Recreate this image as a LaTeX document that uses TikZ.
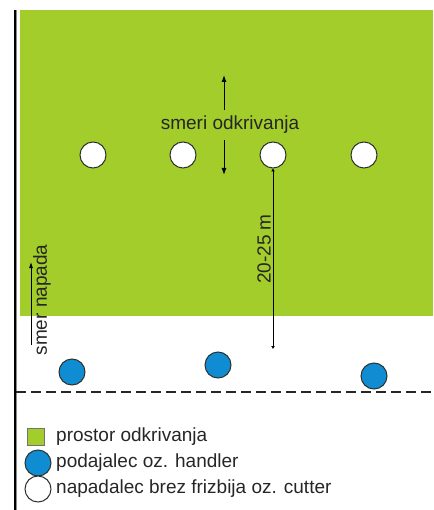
\documentclass[tikz,border=0pt]{standalone}
\usepackage{fontspec}
\setmainfont{Liberation Sans}
\usepackage{tikz}
\usetikzlibrary{arrows.meta,positioning}
\definecolor{fieldgreen}{RGB}{162,205,42}
\definecolor{handlerblue}{RGB}{16,140,210}
\definecolor{rim}{RGB}{45,50,45}

\begin{document}
\begin{tikzpicture}[x=1pt,y=-1pt]
	\tikzstyle{player}=[circle, draw=rim, line width=1pt, minimum size=26pt, inner sep=0pt]
	\tikzstyle{cutter}=[player, fill=white]
	\tikzstyle{handler}=[player, fill=handlerblue]
	\tikzstyle{lbl}=[font=\fontsize{19}{22}\selectfont, inner sep=0pt, text=black!85]
	\useasboundingbox (0,0) rectangle (433,510);
	% field and side line
	\fill[fieldgreen] (20,10) rectangle (433,316);
	\draw[black!45, line width=3pt] (15,10) -- (15,510);
	\draw[black, line width=1.4pt] (15,10) -- (15,510);
	\draw[black!85, line width=2pt, dash pattern=on 10pt off 5pt] (16,392) -- (433,392);
	% players
	\foreach \i/\x in {1/93,2/183,3/273,4/364}
		\node[cutter] (c\i) at (\x,155) {};
	\node[handler] (h1) at (72,372) {};
	\node[handler] (h2) at (218,365) {};
	\node[handler] (h3) at (374,376) {};
	% directions of the cuts
	\node[lbl] (smeri) at (230,125) {smeri odkrivanja};
	\coordinate (upfrom) at (224,110);
	\coordinate (upto) at (224,75);
	\coordinate (downfrom) at (224,140);
	\coordinate (downto) at (224,175);
	\draw[-{Latex[length=7pt,width=5pt]}, line width=1pt] (upfrom) -- (upto);
	\draw[-{Latex[length=7pt,width=5pt]}, line width=1pt] (downfrom) -- (downto);
	% distance to the handlers
	\coordinate (dimend) at (273,349);
	\draw[{Latex[length=3pt,width=4pt]}-{Latex[length=3pt,width=4pt]}, line width=0.8pt] (c3.south) -- (dimend);
	\node[lbl, rotate=90, anchor=south] (dist) at (271,249) {20-25 m};
	% direction of attack
	\coordinate (atkfrom) at (31,345);
	\coordinate (atkto) at (31,262);
	\draw[-{Latex[length=6pt,width=4pt]}, line width=0.8pt] (atkfrom) -- (atkto);
	\node[lbl, rotate=90] (napad) at (42,300) {smer napada};
	% legend
	\node[draw=black!55, fill=fieldgreen, minimum size=17pt, inner sep=0pt] (lgreen) at (36,437) {};
	\node[handler] (lblue) at (38,463) {};
	\node[cutter] (lwhite) at (38,489) {};
	\node[lbl, anchor=west] (tgreen) at (56,437) {prostor odkrivanja};
	\node[lbl, anchor=west] (tblue) at (56,463) {podajalec oz. handler};
	\node[lbl, anchor=west] (twhite) at (56,489) {napadalec brez frizbija oz. cutter};
\end{tikzpicture}
\end{document}
